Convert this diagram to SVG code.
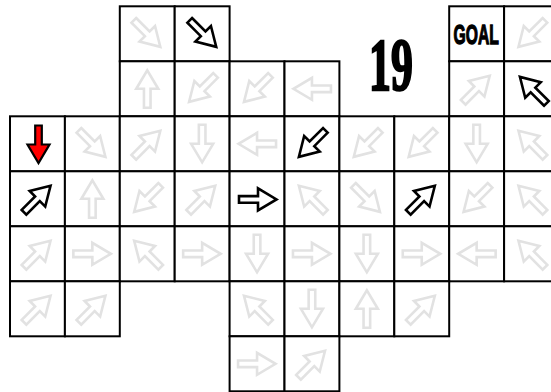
<svg xmlns="http://www.w3.org/2000/svg" xmlns:xlink="http://www.w3.org/1999/xlink" width="551" height="392" viewBox="0 0 551 392">
<style>
rect.cell{fill:#fff;stroke:#000;stroke-width:2}
.lt{fill:#fff;stroke:#e2e2e2;stroke-width:2.6;stroke-linejoin:miter}
.bk{fill:#fff;stroke:#000;stroke-width:2.6;stroke-linejoin:miter}
.rd{fill:#f00;stroke:#000;stroke-width:2.2;stroke-linejoin:miter}
text.big{font-family:"Liberation Serif",serif;font-weight:bold;fill:#000;stroke:#000;stroke-width:2.5}
text.goal{font-family:"Liberation Sans",sans-serif;font-weight:bold;fill:#000;stroke:#000;stroke-width:1.3}
</style>
<defs>
<path id="a" d="M-19,-3.3 H0 V-11 L18.5,0 L0,11 V3.3 H-19 Z"/>
</defs>
<rect width="551" height="392" fill="#fff"/>
<g id="cells">
<g id="r0c2"><rect class="cell" x="119.8" y="6.3" width="54.9" height="55"/><use href="#a" class="lt" transform="translate(147.25,33.8) rotate(45)"/></g>
<g id="r0c3"><rect class="cell" x="174.7" y="6.3" width="54.9" height="55"/><use href="#a" class="bk" transform="translate(203.15,33.8) rotate(45)"/></g>
<g id="r0c8"><rect class="cell" x="449.2" y="6.3" width="54.9" height="55"/><text class="goal" transform="translate(476.2,44.3) scale(0.57,1)" font-size="27.5" text-anchor="middle">GOAL</text></g>
<g id="r0c9"><rect class="cell" x="504.1" y="6.3" width="54.9" height="55"/><use href="#a" class="lt" transform="translate(531.55,33.8) rotate(135)"/></g>

<g id="r1c2"><rect class="cell" x="119.8" y="61.3" width="54.9" height="55"/><use href="#a" class="lt" transform="translate(147.25,88.8) rotate(-90)"/></g>
<g id="r1c3"><rect class="cell" x="174.7" y="61.3" width="54.9" height="55"/><use href="#a" class="lt" transform="translate(202.15,88.8) rotate(135)"/></g>
<g id="r1c4"><rect class="cell" x="229.6" y="61.3" width="54.9" height="55"/><use href="#a" class="lt" transform="translate(257.05,88.8) rotate(135)"/></g>
<g id="r1c5"><rect class="cell" x="284.5" y="61.3" width="54.9" height="55"/><use href="#a" class="lt" transform="translate(311.95,88.8) rotate(180)"/></g>
<g id="r1c8"><rect class="cell" x="449.2" y="61.3" width="54.9" height="55"/><use href="#a" class="lt" transform="translate(476.65,88.8) rotate(-45)"/></g>
<g id="r1c9"><rect class="cell" x="504.1" y="61.3" width="54.9" height="55"/><use href="#a" class="bk" transform="translate(533,90) rotate(-135)"/></g>

<g id="r2c0"><rect class="cell" x="10" y="116.3" width="54.9" height="55"/><use href="#a" class="rd" transform="translate(38.5,144.5) rotate(90)"/></g>
<g id="r2c1"><rect class="cell" x="64.9" y="116.3" width="54.9" height="55"/><use href="#a" class="lt" transform="translate(92.35,143.8) rotate(45)"/></g>
<g id="r2c2"><rect class="cell" x="119.8" y="116.3" width="54.9" height="55"/><use href="#a" class="lt" transform="translate(147.25,143.8) rotate(-45)"/></g>
<g id="r2c3"><rect class="cell" x="174.7" y="116.3" width="54.9" height="55"/><use href="#a" class="lt" transform="translate(202.15,143.8) rotate(90)"/></g>
<g id="r2c4"><rect class="cell" x="229.6" y="116.3" width="54.9" height="55"/><use href="#a" class="lt" transform="translate(257.05,143.8) rotate(180)"/></g>
<g id="r2c5"><rect class="cell" x="284.5" y="116.3" width="54.9" height="55"/><use href="#a" class="bk" transform="translate(311.95,143.8) rotate(135)"/></g>
<g id="r2c6"><rect class="cell" x="339.4" y="116.3" width="54.9" height="55"/><use href="#a" class="lt" transform="translate(366.85,143.8) rotate(135)"/></g>
<g id="r2c7"><rect class="cell" x="394.3" y="116.3" width="54.9" height="55"/><use href="#a" class="lt" transform="translate(421.75,143.8) rotate(135)"/></g>
<g id="r2c8"><rect class="cell" x="449.2" y="116.3" width="54.9" height="55"/><use href="#a" class="lt" transform="translate(476.65,143.8) rotate(90)"/></g>
<g id="r2c9"><rect class="cell" x="504.1" y="116.3" width="54.9" height="55"/><use href="#a" class="lt" transform="translate(531.55,143.8) rotate(-135)"/></g>

<g id="r3c0"><rect class="cell" x="10" y="171.3" width="54.9" height="55"/><use href="#a" class="bk" transform="translate(37.45,198.8) rotate(-45)"/></g>
<g id="r3c1"><rect class="cell" x="64.9" y="171.3" width="54.9" height="55"/><use href="#a" class="lt" transform="translate(92.35,198.8) rotate(-90)"/></g>
<g id="r3c2"><rect class="cell" x="119.8" y="171.3" width="54.9" height="55"/><use href="#a" class="lt" transform="translate(147.25,198.8) rotate(135)"/></g>
<g id="r3c3"><rect class="cell" x="174.7" y="171.3" width="54.9" height="55"/><use href="#a" class="lt" transform="translate(202.15,198.8) rotate(-45)"/></g>
<g id="r3c4"><rect class="cell" x="229.6" y="171.3" width="54.9" height="55"/><use href="#a" class="bk" transform="translate(258,199.4)"/></g>
<g id="r3c5"><rect class="cell" x="284.5" y="171.3" width="54.9" height="55"/><use href="#a" class="lt" transform="translate(311.95,198.8) rotate(-135)"/></g>
<g id="r3c6"><rect class="cell" x="339.4" y="171.3" width="54.9" height="55"/><use href="#a" class="lt" transform="translate(366.85,198.8) rotate(45)"/></g>
<g id="r3c7"><rect class="cell" x="394.3" y="171.3" width="54.9" height="55"/><use href="#a" class="bk" transform="translate(421.75,198.8) rotate(-45)"/></g>
<g id="r3c8"><rect class="cell" x="449.2" y="171.3" width="54.9" height="55"/><use href="#a" class="lt" transform="translate(476.65,198.8) rotate(135)"/></g>
<g id="r3c9"><rect class="cell" x="504.1" y="171.3" width="54.9" height="55"/><use href="#a" class="lt" transform="translate(531.55,198.8) rotate(-135)"/></g>

<g id="r4c0"><rect class="cell" x="10" y="226.3" width="54.9" height="55"/><use href="#a" class="lt" transform="translate(37.45,253.8) rotate(-45)"/></g>
<g id="r4c1"><rect class="cell" x="64.9" y="226.3" width="54.9" height="55"/><use href="#a" class="lt" transform="translate(92.35,253.8)"/></g>
<g id="r4c2"><rect class="cell" x="119.8" y="226.3" width="54.9" height="55"/><use href="#a" class="lt" transform="translate(147.25,253.8) rotate(-135)"/></g>
<g id="r4c3"><rect class="cell" x="174.7" y="226.3" width="54.9" height="55"/><use href="#a" class="lt" transform="translate(202.15,253.8)"/></g>
<g id="r4c4"><rect class="cell" x="229.6" y="226.3" width="54.9" height="55"/><use href="#a" class="lt" transform="translate(257.05,253.8) rotate(90)"/></g>
<g id="r4c5"><rect class="cell" x="284.5" y="226.3" width="54.9" height="55"/><use href="#a" class="lt" transform="translate(311.95,253.8)"/></g>
<g id="r4c6"><rect class="cell" x="339.4" y="226.3" width="54.9" height="55"/><use href="#a" class="lt" transform="translate(366.85,253.8) rotate(90)"/></g>
<g id="r4c7"><rect class="cell" x="394.3" y="226.3" width="54.9" height="55"/><use href="#a" class="lt" transform="translate(421.75,253.8)"/></g>
<g id="r4c8"><rect class="cell" x="449.2" y="226.3" width="54.9" height="55"/><use href="#a" class="lt" transform="translate(476.65,253.8) rotate(180)"/></g>
<g id="r4c9"><rect class="cell" x="504.1" y="226.3" width="54.9" height="55"/><use href="#a" class="lt" transform="translate(531.55,253.8) rotate(-135)"/></g>

<g id="r5c0"><rect class="cell" x="10" y="281.3" width="54.9" height="55"/><use href="#a" class="lt" transform="translate(37.45,308.8) rotate(-45)"/></g>
<g id="r5c1"><rect class="cell" x="64.9" y="281.3" width="54.9" height="55"/><use href="#a" class="lt" transform="translate(92.35,308.8) rotate(-45)"/></g>
<g id="r5c4"><rect class="cell" x="229.6" y="281.3" width="54.9" height="55"/><use href="#a" class="lt" transform="translate(257.05,308.8) rotate(-135)"/></g>
<g id="r5c5"><rect class="cell" x="284.5" y="281.3" width="54.9" height="55"/><use href="#a" class="lt" transform="translate(311.95,308.8) rotate(90)"/></g>
<g id="r5c6"><rect class="cell" x="339.4" y="281.3" width="54.9" height="55"/><use href="#a" class="lt" transform="translate(366.85,308.8) rotate(-90)"/></g>
<g id="r5c7"><rect class="cell" x="394.3" y="281.3" width="54.9" height="55"/><use href="#a" class="lt" transform="translate(421.75,308.8) rotate(-45)"/></g>

<g id="r6c4"><rect class="cell" x="229.6" y="336.3" width="54.9" height="55"/><use href="#a" class="lt" transform="translate(257.05,363.8)"/></g>
<g id="r6c5"><rect class="cell" x="284.5" y="336.3" width="54.9" height="55"/><use href="#a" class="lt" transform="translate(311.95,363.8) rotate(-45)"/></g>
</g>
<g id="connectors"/>
<g id="label-19"><text class="big" transform="translate(391,89.5) scale(0.6,1)" font-size="73" text-anchor="middle">19</text></g>
</svg>
